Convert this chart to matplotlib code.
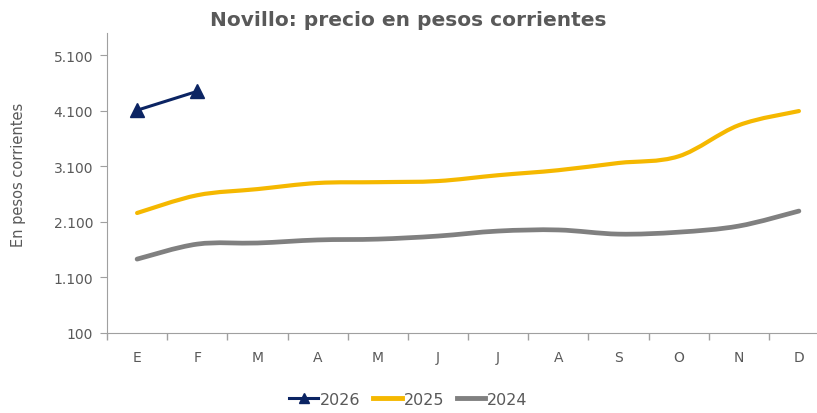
import numpy as np
import matplotlib.pyplot as plt
from matplotlib.path import Path
from matplotlib.patches import PathPatch
from matplotlib.lines import Line2D
from matplotlib.ticker import FuncFormatter

meses = ["E", "F", "M", "A", "M", "J", "J", "A", "S", "O", "N", "D"]
v2026 = [4110, 4450]
v2025 = [2260, 2580, 2690, 2800, 2815, 2835, 2940, 3030, 3160, 3280, 3840, 4095]
v2024 = [1430, 1700, 1720, 1775, 1790, 1845, 1935, 1955, 1880, 1915, 2025, 2295]

C2026 = "#0B2463"
C2025 = "#F5B800"
C2024 = "#808080"
GRIS = "#595959"

plt.rcParams['font.family'] = ['DejaVu Sans']


def curva_suave(ax, xs, ys, color, lw):
    # curva tipo Excel (Catmull-Rom -> Bezier)
    pts = np.column_stack([xs, ys]).astype(float)
    n = len(pts)
    verts = [pts[0]]
    codes = [Path.MOVETO]
    for i in range(n - 1):
        p0 = pts[i - 1] if i > 0 else pts[i]
        p1 = pts[i]
        p2 = pts[i + 1]
        p3 = pts[i + 2] if i + 2 < n else pts[i + 1]
        c1 = p1 + (p2 - p0) / 6
        c2 = p2 - (p3 - p1) / 6
        verts += [c1, c2, p2]
        codes += [Path.CURVE4] * 3
    patch = PathPatch(Path(verts, codes), facecolor='none', edgecolor=color,
                      lw=lw, capstyle='round', joinstyle='round',
                      transform=ax.transData)
    ax.add_patch(patch)


fig = plt.figure(figsize=(8.17, 4.14), dpi=100)
ax = fig.add_axes([107 / 817, 80 / 414, 722 / 817, 300 / 414])

x = np.arange(len(meses))
curva_suave(ax, x, v2024, C2024, 3.4)
curva_suave(ax, x, v2025, C2025, 3.0)
ax.plot(x[:len(v2026)], v2026, color=C2026, lw=2.2, marker='^', ms=10)

ax.set_xlim(-0.5, 11.5)
ax.set_ylim(100, 5500)
ax.set_yticks([100, 1100, 2100, 3100, 4100, 5100])
ax.yaxis.set_major_formatter(FuncFormatter(lambda v, p: f"{int(v):,}".replace(",", ".")))

ax.set_xticks(np.arange(-0.5, 12, 1), minor=False)
ax.set_xticklabels([])
ax.set_xticks(x, minor=True)
ax.set_xticklabels(meses, minor=True)
ax.tick_params(axis='x', which='major', length=5, color="#A0A0A0", width=1)
ax.tick_params(axis='x', which='minor', length=0, pad=12, labelsize=10, labelcolor=GRIS)
ax.tick_params(axis='y', length=5, color="#A0A0A0", labelsize=10, labelcolor=GRIS, pad=5)

for s in ['top', 'right']:
    ax.spines[s].set_visible(False)
for s in ['left', 'bottom']:
    ax.spines[s].set_color("#A0A0A0")

ax.set_ylabel("En pesos corrientes", color=GRIS, fontsize=10.5)
ax.yaxis.set_label_coords(-0.112, 0.53)

fig.text(0.5, 0.95, "Novillo: precio en pesos corrientes", ha='center', va='center',
         fontsize=14.5, fontweight='bold', color=GRIS)

handles = [Line2D([], [], color=C2026, lw=2.2, marker='^', ms=7),
           Line2D([], [], color=C2025, lw=3.5),
           Line2D([], [], color=C2024, lw=3.5)]
fig.legend(handles, ["2026", "2025", "2024"], loc='center', bbox_to_anchor=(0.5, 0.033),
           ncol=3, frameon=False, fontsize=11.5, labelcolor=GRIS, handlelength=1.8,
           handletextpad=0.1, columnspacing=0.8)

fig.savefig("out.png", dpi=100)
